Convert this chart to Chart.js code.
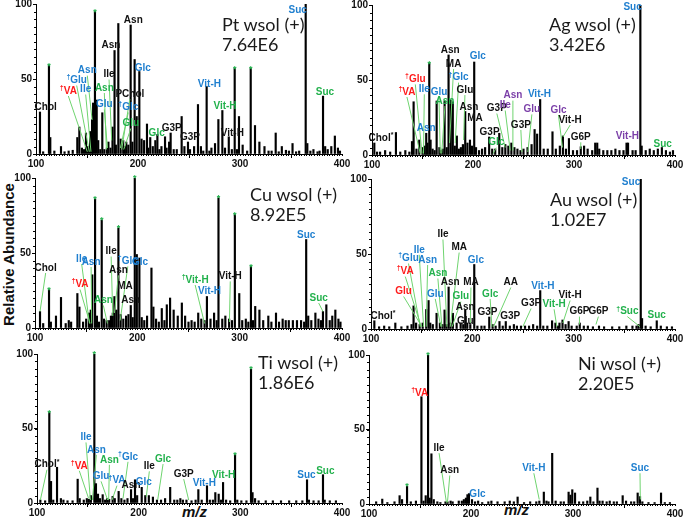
<!DOCTYPE html>
<html>
<head>
<meta charset="utf-8">
<script src="https://cdn.jsdelivr.net/npm/chart.js@4.4.1/dist/chart.umd.min.js"></script>
<style>
body { margin: 0; background: #fff; width: 685px; height: 522px; position: relative; overflow: hidden; font-family: "Liberation Sans", Arial, sans-serif; }
canvas { position: absolute; }
.ttl { position: absolute; font-family: Lato, "Liberation Sans", sans-serif; font-size: 18px; line-height: 20px; color: #1a1a1a; white-space: nowrap; }
.ylab { position: absolute; left: -67px; top: 246px; width: 150px; text-align: center; transform: rotate(-90deg); font-weight: bold; font-size: 15px; color: #111; white-space: nowrap; }
.mz { position: absolute; font-weight: bold; font-style: italic; font-size: 15px; color: #111; }
</style>
</head>
<body>
<div class="ylab">Relative Abundance</div>
<div class="mz" style="left:182px;top:503px">m/z</div>
<div class="mz" style="left:504px;top:501px">m/z</div>
<script>
const xTicks = [100, 200, 300, 400];
const yTicks = [0, 50, 100];

// peaks: [m/z, relative abundance]
const ptPeaks = [[103.9,28],[107,1.5],[112.7,59],[114,11],[118,2],[124.5,5],[128,1.5],[132,2],[136,2.5],[140.5,11],[142.5,18],[145,4],[147,3],[149,14],[151,5],[153,15],[155,23],[156,34],[157.8,95],[159.5,36],[161,9],[163,3],[165,27.5],[167,3],[169.5,4],[171,8],[173,4],[175,18],[177,69],[178.3,6],[180.7,87],[183,10],[185.5,9],[187,5],[188.5,8],[190.5,6],[192.8,86],[194.5,8],[196.7,63],[198.7,25],[201.3,55],[203.5,10],[206,9],[208.8,20],[210,4],[212,11],[214.5,5],[217,9],[219,13],[221,3],[223,5],[226.5,11.5],[228,4],[230.5,8],[232,14],[235,3],[238,3],[242.8,25],[245.5,5],[249,8],[251,3],[255,5],[258.8,33],[261.7,5],[264,2],[267.3,45],[270,2],[272,4],[275.5,7],[278.8,23],[282.7,29],[285.3,4],[289,11.5],[292,3],[294.8,57],[297,3],[299,25],[302.6,6],[307,2],[310.5,57],[314.7,19],[319,8],[324,5],[328,2],[331,2],[335,14],[338,1.5],[341,5],[345,2.5],[348,2],[351.5,7],[355,1.5],[358,2],[364.4,100],[366,7],[369,2],[372,3],[376,1.5],[378,2],[381.4,38.6],[383.5,5],[386,3],[389.5,5],[393,12],[396,4],[398,2]];
const agPeaks = [[102.3,8],[105,2],[108,2],[113,3],[118,2],[123.7,15],[128,2],[133,3],[137,2],[139.6,9],[141.2,35.5],[144,4],[146.8,10],[150,5],[152,6],[153.7,14.5],[155,8],[156.7,61],[158,10],[160,4],[162,3],[164,36],[166.7,5],[168,3],[170,4],[171.9,36],[174,5],[175.8,66.7],[178,36.7],[180,35.5],[182,6],[184,12.7],[186,4],[188,5],[190,7],[192.3,29],[194.5,8],[197,10],[199,6],[201.2,62],[203,5],[206,3],[209,4],[212,5],[216,12],[219,4],[222,4],[226,14.5],[229,5],[232,7],[235,6],[238,8],[241,5],[244,4],[247,3],[250,4],[254,5],[258,7],[261,17],[263.5,14],[266.5,37],[270,4],[274,4],[278.7,15.5],[282,4],[286,6],[289,12.7],[292,4],[295,11],[299,3],[303,3],[306.7,5.5],[310,6],[313.5,4],[318,3],[321,8],[323,8],[325,4],[329,3],[333,3],[337,3],[341,4],[345,3],[349,3],[352,8],[353.5,8],[358,3],[361,3],[365.7,100],[367,6],[371,3],[375,4],[379,3],[383,4],[387,5],[391,3],[395,2],[398,3]];
const cuPeaks = [[104.9,11],[108,3],[113.7,25.5],[115.5,4],[120.5,8],[125.4,20.4],[130,3],[133,5],[135.3,4],[141.4,23],[143.4,14],[147,4],[150,6],[152.7,10],[154.5,12],[156,35.5],[158.7,86],[160.5,8],[162.5,4],[165.2,72],[167.5,6],[170,5],[172.5,5],[174.2,8],[176,10],[177.6,21],[179.5,12],[181.5,66.7],[183.7,9],[186.3,6],[189,8],[191.3,9],[193.6,15],[195.5,7],[197.5,100],[199.5,49],[202,46.7],[204.3,7],[206.8,5],[209.5,8],[213.8,40],[215.7,14],[218.3,6],[221,4],[223.9,13],[226.5,5],[228.8,15.5],[232,20],[235.5,12],[239.5,8],[243.5,16.7],[246.7,8],[250,4],[253,5],[256,4],[259.5,10],[262.5,6],[265.7,5],[268,21],[271.5,6],[275,10],[277.5,5],[279.3,86.7],[283,6],[286,8],[289.7,6],[292.5,5],[295.3,75.6],[299.6,23],[302.5,5],[306,6],[308.5,4],[311,41],[313,5],[315.2,14.4],[319.3,12],[323,5],[328,8],[331,4],[335.5,10],[338.5,4],[342,6],[345,5],[348,5],[352,5],[356,5],[360,5],[363,4],[365,59],[367,8],[370,5],[374,10],[377,6],[379.5,5],[381.4,11],[384.7,15.5],[388,5],[390.5,8],[393.5,12],[396.5,6],[398.5,4]];
const auPeaks = [[103.3,5.5],[108,1.5],[113,2],[118,1.5],[124,4],[130,1.5],[136,2],[140,3],[142,15.4],[144.5,4],[148,3],[151,4],[154.5,13],[156.8,19],[158.5,4],[161,3],[164.7,10.5],[168,4],[170.5,3],[172.6,12.7],[174.5,3],[176.6,28],[178.5,4],[180.8,10.5],[184.5,4],[188.5,4],[191,3],[193,12.7],[195,4],[198,3],[201.9,43],[205,2],[209,2],[212,2],[216.7,8],[220,3],[223,2],[226.8,5],[230,2],[233,5],[237,2],[241,3],[244,2],[248,2],[252,2],[256,2],[260,3],[264,2],[267,25.6],[270,2],[274,2],[278.7,5.5],[282,4],[284.5,2],[286,4],[289,6],[292,3],[295,5],[298,2],[303,2],[306,4],[310,2],[314,2],[319,1.5],[325,2],[330,1.5],[338,1.5],[345,1.5],[352,2],[358,2],[362,2],[364,3],[366.2,100],[367.5,7],[371,2],[376,1.5],[382,5.5],[386,2],[392,1.5],[397,1.5]];
const tiPeaks = [[103.3,2],[108,1.5],[112.1,60.7],[113.8,14.5],[116,2],[119.7,24],[123.5,3],[126,2],[130,1.5],[135,1.5],[140,16],[142,3],[146,2],[149,3],[151,2.5],[153,5],[156.4,100],[158,13],[160,6],[162,3],[164.6,5.6],[167,2],[169,3],[171,2.5],[174.4,4.5],[176.5,3],[180.3,7.8],[183,3],[186,2],[189,3],[192.5,9],[194.5,3],[196.4,15.6],[198.5,5],[203,10.5],[206.5,5],[210,5],[214,4],[218,2],[222,2],[226,3],[231,10.5],[235,2],[238,2],[241,3],[243.5,2],[247,2],[252,1.5],[256,2],[258.7,9],[262,2],[267.2,11.6],[270,2],[273,2],[275.4,7],[278.7,6],[281,2],[283,13.8],[286,2],[290,1.5],[294.8,32.4],[297,2],[301,1.5],[306,1.5],[310.5,89.7],[312,7],[314.5,3],[318,1.5],[325,1.5],[332,1.5],[340,1.5],[348,1.5],[355,1.5],[361,1.5],[365.6,15.6],[367.5,2],[372,1.5],[377,1.5],[381.3,19],[383,2],[388,1.5],[394,1.5]];
const niPeaks = [[107,1.5],[113,3.3],[118,1],[125,1.5],[130,5.6],[132.4,3],[137.3,11.8],[141,1.5],[146,2],[151.4,72],[153.5,2],[155.6,5.6],[157.9,100],[159.5,4],[161.2,33.7],[163.5,3],[167,1.5],[170,1],[175,1.5],[177,1.5],[180,2],[182,1.5],[188,2],[191,2],[193,3],[195,4],[196.5,6.3],[198,7],[201,3],[204,1.5],[207,2],[211,1],[217,1.5],[220,2],[226,1.5],[233,1.5],[238,2],[242,1.5],[245.7,4.7],[252,1],[258,1.5],[264,1.5],[267,2],[271.4,8],[274,2],[276,1.5],[279.6,34],[283,2],[288,1.5],[291,1.5],[295.7,8],[297.5,6],[299.3,9.6],[302,7.4],[306,1.5],[310,1.5],[314,2],[317,4.7],[320,1.5],[324,10.7],[326,2],[329,2],[333,1.5],[336,2],[340,1.5],[343,1.5],[348.7,5.6],[352,2],[357,1.5],[360,1.5],[363.4,7.4],[365.7,5],[368,1.5],[374,1],[380,1],[386.3,7.4],[390,1],[395,1]];

// peaks marked with a green asterisk
const ptStars = [112.7, 157.8, 294.8, 310.5];
const agStars = [156.7];
const cuStars = [113.7, 158.7, 165.2, 181.5, 197.5, 279.3, 295.3, 311];
const auStars = [];
const tiStars = [112.1, 156.4, 294.8, 310.5];
const niStars = [137.3, 157.9];

// labels: [text, colour, m/z, abundance, leader to m/z, leader to abundance]
const ptLabels = [['Chol','k',109.5,31],['†VA','r',131.7,42,150.3,1.5],['†Glu','b',139.9,49,152.3,1.5],['Ile','b',148.7,43,153.9,1.5],['Asn','b',150.3,55.6,155,22.7],['Glu','b',167,33,170,4],['Asn','g',167,44,169,3],['Ile','k',171.6,53,174.2,9],['PChol','k',192,40,184,3],['†Glc','b',190.5,31,182.7,4],['Glu','g',193,20.4,186,3],['Asn','k',173.5,72.7],['Asn','k',195.4,89],['Glc','b',204.6,57.5],['Glc','g',218.3,13.8],['G3P','k',233,17],['G3P','k',251,11.5],['Vit-H','b',270,46.4],['Vit-H','g',285.3,31.6],['Vit-H','k',292.5,13.8],['Suc','b',356.5,96],['Suc','g',383.3,41.5]];
const agLabels = [['Chol*','k',108.9,11],['†Glu','r',142.9,50.4,149.5,1],['†VA','r',134.6,42,147.8,1],['Ile','b',151.8,43.8,151,1],['Glu','b',166.3,41.8,167.6,1],['Asn','g',172.2,36,169,1],['Asn','b',153.7,17.6],['Asn','k',177.5,70],['MA','k',180.8,60.7,176.8,8],['†Glc','b',185.7,51.6,182.4,8],['Glu','k',192,43.3,190.7,10],['Asn','k',196,32],['MA','k',201.9,24.4],['Glc','b',204.8,65.6],['G3P','k',216.4,15],['Glc','g',223,8.2,220,1],['G3P','k',223.6,31,231.9,5],['Ile','p',231.9,33,236.8,3],['Asn','p',239.5,39.6,239.5,3],['G3P','k',247.4,20,248.4,2],['Glu','p',258.3,30.4,254.3,2],['Vit-H','b',265.8,40.4],['Glc','p',284.6,30,288.6,5],['Vit-H','k',296.2,23.3,289,12],['G6P','k',306.7,11.8,306.7,4],['Vit-H','p',352.9,12.2],['Suc','g',387.8,7.3],['Suc','b',358,98.4]];
const cuLabels = [['Chol','k',110.4,40,104.9,11],['†VA','r',144,29,153.8,3],['Ile','b',145.6,46,153.2,3],['Asn','b',154.8,44,155.4,3],['Ile','k',174.4,51,176,8],['Asn','k',181.5,38.4,177.6,10],['†Glc','b',190.7,44.4,183.2,5],['Glc','b',202.7,43.8],['MA','k',188,27.8],['Asn','k',193.6,18.4],['Asn','g',166.8,18.4,170.8,3],['†Vit-H','g',256.5,32,265.7,3],['Vit-H','b',270.5,24.4],['Vit-H','k',290.8,34.4,290,4],['Suc','b',365,61.6],['Suc','g',377.2,20,381.4,11]];
const auLabels = [['Chol*','k',111.8,8.7],['†Glu','b',137,47,148.6,1.5],['Ile','b',147.6,52.8,151.9,1.5],['Asn','b',155.9,46,154.5,1.5],['†VA','r',133.8,38.3,149.6,1.5],['Glu','r',132.2,25,150.3,1.5],['Asn','g',166,37,170,1.5],['Glu','b',163.4,23.4,169,1.5],['Ile','k',171,63,174.9,1.5],['MA','k',187,54.3,178.2,1.5],['Glc','b',203.5,46],['Asn','k',178.2,31],['MA','k',198.6,31,198,4],['Glu','g',188.7,21.6,180,1.5],['Asn','k',193,14.5],['Glu','k',193,4.9],['G3P','k',215,11],['Glc','g',217.6,23.4,219.3,1.5],['AA','k',238,31,220.9,1.5],['G3P','k',237.4,8.2],['G3P','k',258,17,249.8,1.5],['Vit-H','b',269.6,28.7],['Vit-H','g',280.7,16.5,283.4,1.5],['Vit-H','k',296.5,22.3,289.3,4],['G6P','k',305.7,11.6,305.7,3],['G6P','k',324.4,11.6,322,3],['†Suc','g',353,11.6,365.5,1.5],['Suc','g',382,9],['Suc','b',356.6,97.8]];
const tiLabels = [['Chol*','k',109.8,25.7,103.3,2],['†VA','r',141.6,25,150.8,3],['Ile','b',148.2,44,152.5,2],['Asn','b',158.4,35.7,154.5,2],['Asn','g',171.2,29,170.5,2],['†Glc','b',189.5,31,184.6,3],['Glc','g',224,29.5,218.7,2],['Ile','k',210.5,24.6,207.5,4],['Glu','b',163,17.9,169.5,2],['†VA','b',178.7,15,173.8,2],['Asn','k',192.5,11.8],['Glc','b',205,14],['G3P','k',244.3,19.4,249.2,2],['Vit-H','b',264.6,13.4],['Vit-H','g',283.6,18.3],['Suc','b',365,18.3],['Suc','g',383.6,21.2]];
const niLabels = [['†VA','r',149.7,74.3],['Ile','k',168.7,37.5,175.9,1],['Asn','k',179.2,22.5,176.9,1],['Glc','b',206.3,6.7],['Vit-H','b',261.6,24,266.9,3],['Suc','b',365.7,24,366,3]];

const titles = [['Pt wsol (+)','7.64E6'],['Ag wsol (+)','3.42E6'],['Cu wsol (+)','8.92E5'],['Au wsol (+)','1.02E7'],['Ti wsol (+)','1.86E6'],['Ni wsol (+)','2.20E5']];

const colors = { k: '#111111', b: '#1f7fcf', g: '#22b14c', r: '#ff1a1a', p: '#7b3fa8' };
const leaderColor = '#6fd46f';

// plot boxes [left, top, right, bottom] and title spots
const panels = [
    { peaks: ptPeaks, stars: ptStars, labels: ptLabels, box: [36, 4, 342, 154], tpos: [222, 14] },
    { peaks: agPeaks, stars: agStars, labels: agLabels, box: [372, 5, 675, 155], tpos: [549, 14] },
    { peaks: cuPeaks, stars: cuStars, labels: cuLabels, box: [35, 178, 342, 328], tpos: [250, 184] },
    { peaks: auPeaks, stars: auStars, labels: auLabels, box: [371, 179, 675, 329], tpos: [550, 189] },
    { peaks: tiPeaks, stars: tiStars, labels: tiLabels, box: [37, 354, 342, 503], tpos: [258, 352] },
    { peaks: niPeaks, stars: niStars, labels: niLabels, box: [369, 355, 675, 504], tpos: [578, 353] }
];

// draws minor ticks, leader lines, labels and asterisks
const annotate = {
    id: 'annotate',
    afterDatasetsDraw(chart, args, opts) {
        const ctx = chart.ctx;
        const xs = chart.scales.x, ys = chart.scales.y;
        const y0 = ys.getPixelForValue(0);
        const x0 = xs.getPixelForValue(100);
        ctx.save();
        ctx.strokeStyle = '#000';
        ctx.lineWidth = 1;
        ctx.beginPath();
        for (let v = 100; v <= 400; v += 2.5) {
            const px = Math.round(xs.getPixelForValue(v)) + 0.5;
            ctx.moveTo(px, y0);
            ctx.lineTo(px, y0 + 2);
        }
        for (let v = 0; v <= 100; v += 5) {
            const py = Math.round(ys.getPixelForValue(v)) + 0.5;
            ctx.moveTo(x0, py);
            ctx.lineTo(x0 - 2, py);
        }
        ctx.stroke();

        // leader lines
        ctx.strokeStyle = leaderColor;
        ctx.lineWidth = 1;
        opts.labels.forEach(l => {
            if (l[4] === undefined) return;
            ctx.beginPath();
            ctx.moveTo(xs.getPixelForValue(l[2]), ys.getPixelForValue(l[3]) + 5);
            ctx.lineTo(xs.getPixelForValue(l[4]), ys.getPixelForValue(l[5]));
            ctx.stroke();
        });

        // labels
        ctx.textBaseline = 'middle';
        opts.labels.forEach(l => {
            let txt = l[0], pre = '', post = '';
            if (txt[0] === '†') { pre = '†'; txt = txt.slice(1); }
            if (txt.endsWith('*')) { post = '*'; txt = txt.slice(0, -1); }
            const main = 'bold 10px "Liberation Sans", Arial, sans-serif';
            const small = 'bold 7px "Liberation Sans", Arial, sans-serif';
            ctx.font = small;
            const wPre = pre ? ctx.measureText(pre).width : 0;
            const wPost = post ? ctx.measureText(post).width : 0;
            ctx.font = main;
            const wMain = ctx.measureText(txt).width;
            let x = xs.getPixelForValue(l[2]) - (wPre + wMain + wPost) / 2;
            const y = ys.getPixelForValue(l[3]);
            ctx.fillStyle = colors[l[1]];
            ctx.textAlign = 'left';
            if (pre) { ctx.font = small; ctx.fillText(pre, x, y - 3); x += wPre; }
            ctx.font = main;
            ctx.fillText(txt, x, y);
            x += wMain;
            if (post) { ctx.font = small; ctx.fillText(post, x, y - 3); }
        });

        // asterisks
        ctx.fillStyle = '#22b14c';
        ctx.font = 'bold 9px "Liberation Sans", Arial, sans-serif';
        ctx.textAlign = 'center';
        ctx.textBaseline = 'alphabetic';
        opts.stars.forEach(m => {
            const pk = opts.peaks.find(d => d[0] === m);
            ctx.fillText('*', xs.getPixelForValue(m), ys.getPixelForValue(pk[1]) + 3);
        });
        ctx.restore();
    }
};

function makePanel(p, i) {
    const axW = 34, padT = 8, padR = 16, axH = 20;
    const [L, T, R, B] = p.box;
    const cv = document.createElement('canvas');
    cv.width = R - L + axW + padR;
    cv.height = B - T + padT + axH;
    cv.style.left = (L - axW) + 'px';
    cv.style.top = (T - padT) + 'px';
    document.body.appendChild(cv);

    const t = document.createElement('div');
    t.className = 'ttl';
    t.style.left = p.tpos[0] + 'px';
    t.style.top = p.tpos[1] + 'px';
    t.innerHTML = titles[i][0] + '<br>' + titles[i][1];
    document.body.appendChild(t);

    const tickFont = { family: '"Liberation Sans", Arial, sans-serif', size: 10, weight: 'bold' };
    new Chart(cv, {
        type: 'bar',
        data: {
            datasets: [{
                data: p.peaks.map(d => ({ x: d[0], y: d[1] })),
                backgroundColor: '#000',
                barThickness: 1.5
            }]
        },
        options: {
            responsive: false,
            animation: false,
            devicePixelRatio: 1,
            layout: { padding: { top: padT, right: padR, left: 0, bottom: 0 } },
            plugins: {
                legend: { display: false },
                tooltip: { enabled: false },
                annotate: { labels: p.labels, stars: p.stars, peaks: p.peaks }
            },
            scales: {
                x: {
                    type: 'linear', min: 100, max: 400, offset: false,
                    afterBuildTicks: s => { s.ticks = xTicks.map(v => ({ value: v })); },
                    afterFit: s => { s.height = axH; },
                    ticks: { font: tickFont, color: '#111', padding: 0, maxRotation: 0 },
                    grid: { drawOnChartArea: false, tickLength: 4, color: '#000' },
                    border: { color: '#000', width: 1 }
                },
                y: {
                    min: 0, max: 100,
                    afterBuildTicks: s => { s.ticks = yTicks.map(v => ({ value: v })); },
                    afterFit: s => { s.width = axW; },
                    ticks: { font: tickFont, color: '#111', padding: 1 },
                    grid: { drawOnChartArea: false, tickLength: 3, color: '#000' },
                    border: { color: '#000', width: 1 }
                }
            }
        },
        plugins: [annotate]
    });
}

panels.forEach(makePanel);
</script>
</body>
</html>
